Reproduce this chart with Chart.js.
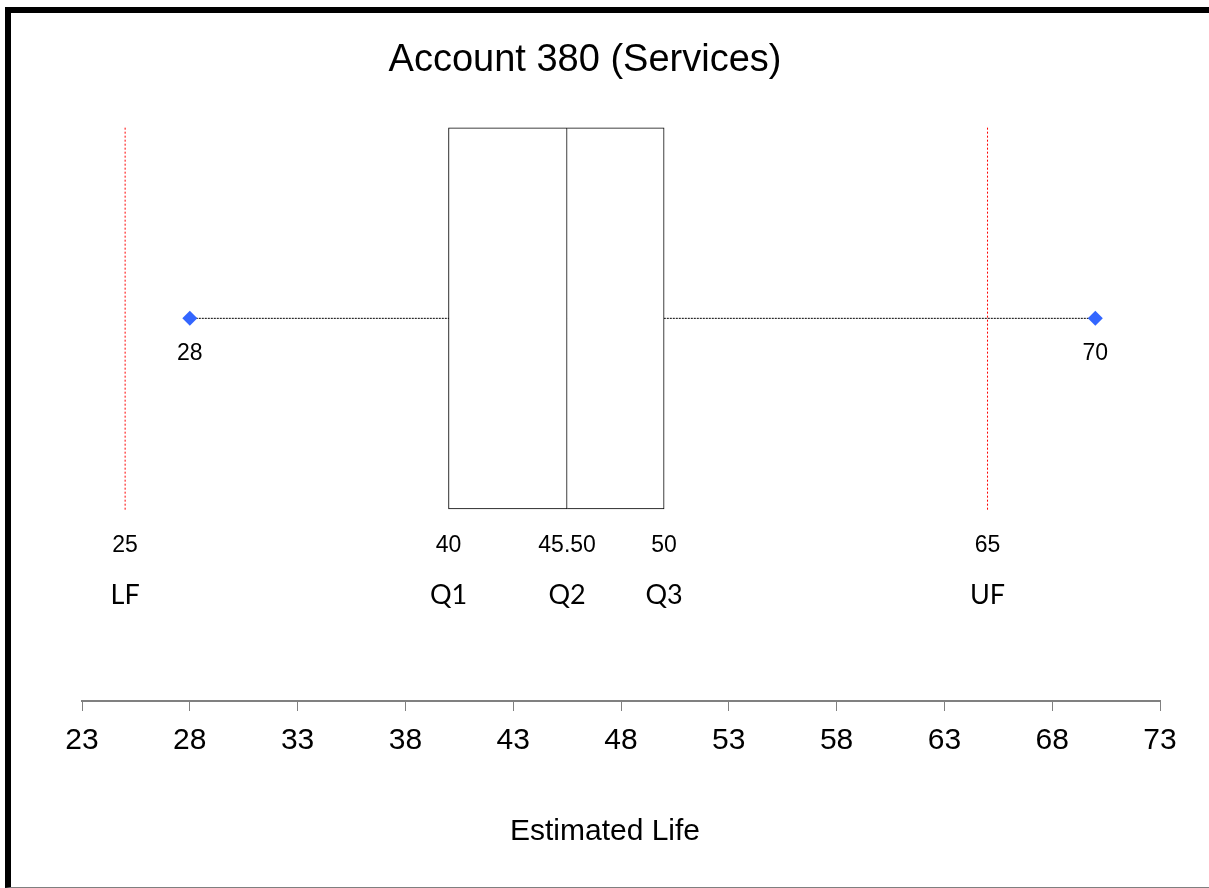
<!DOCTYPE html>
<html>
<head>
<meta charset="utf-8">
<script src="https://cdn.jsdelivr.net/npm/chart.js@4/dist/chart.umd.min.js"></script>
<style>
  html, body { margin: 0; padding: 0; background: #fff; overflow: hidden; }
  #frame { position: absolute; left: 5px; top: 7px; width: 1204px; height: 881px; box-sizing: border-box;
           border-left: 6px solid #000; border-top: 6px solid #000; border-bottom: 1px solid #7f7f7f; }
  #wrap { position: absolute; left: 0; top: 0; width: 1209px; height: 888px; }
</style>
</head>
<body>
<div id="frame"></div>
<div id="wrap"><canvas id="c"></canvas></div>
<script>
// ---- data ----
const chartTitle = 'Account 380 (Services)';
const axisTitle = 'Estimated Life';
const tickValues = [23, 28, 33, 38, 43, 48, 53, 58, 63, 68, 73];
const extremes = [28, 70];          // observed minimum / maximum
const quartiles = [40, 45.5, 50];   // Q1, Q2 (median), Q3
const fences = [25, 65];            // lower fence / upper fence
const markerNames = ['LF', 'Q1', 'Q2', 'Q3', 'UF'];
const markerValues = [fences[0], quartiles[0], quartiles[1], quartiles[2], fences[1]];

// ---- layout (hidden vertical scale 0..3, box row centred at 2) ----
const ROW = 2;
const HALF = 1;
const LABEL_Y = { extreme: 1.78, value: 0.78, name: 0.505 };

const fmt = v => Number.isInteger(v) ? String(v) : v.toFixed(2);
const ARIAL = '"Liberation Sans", Arial, sans-serif';

const textPlugin = {
  id: 'texts',
  afterDraw(chart) {
    const { ctx, scales: { x, y } } = chart;
    ctx.save();
    ctx.fillStyle = '#000';
    ctx.textAlign = 'center';
    ctx.textBaseline = 'alphabetic';
    ctx.font = '23px ' + ARIAL;
    extremes.forEach(v => ctx.fillText(fmt(v), x.getPixelForValue(v), y.getPixelForValue(LABEL_Y.extreme)));
    markerValues.forEach(v => ctx.fillText(fmt(v), x.getPixelForValue(v), y.getPixelForValue(LABEL_Y.value)));
    ctx.font = '27px Lato, "Open Sans", sans-serif';
    markerNames.forEach((n, i) => ctx.fillText(n, x.getPixelForValue(markerValues[i]), y.getPixelForValue(LABEL_Y.name)));
    ctx.font = '38px ' + ARIAL;
    ctx.fillText(chartTitle, 585, 71);
    ctx.font = '30px ' + ARIAL;
    ctx.fillText(axisTitle, 605, 840);
    ctx.restore();
  }
};

const fenceLine = (v) => ({
  type: 'line',
  data: [{ x: v, y: ROW - HALF }, { x: v, y: ROW + HALF }],
  borderColor: 'rgb(255, 0, 0)', borderWidth: 1, borderDash: [2, 2],
  pointRadius: 0, clip: false, order: 2
});

new Chart(document.getElementById('c'), {
  type: 'scatter',
  data: {
    datasets: [
      { type: 'bar', indexAxis: 'y', grouped: false, data: [{ x: [quartiles[0], quartiles[1]], y: ROW }],
        barThickness: 381, backgroundColor: '#fff', borderColor: '#000', borderWidth: 1, borderSkipped: false,
        clip: false, order: 1 },
      { type: 'bar', indexAxis: 'y', grouped: false, data: [{ x: [quartiles[1], quartiles[2]], y: ROW }],
        barThickness: 381, backgroundColor: '#fff', borderColor: '#000', borderWidth: 1, borderSkipped: 'left',
        clip: false, order: 1 },
      { type: 'line', data: extremes.map(v => ({ x: v, y: ROW })),
        borderColor: '#000', borderWidth: 1, borderDash: [2, 1], pointRadius: 0, clip: false, order: 3 },
      fenceLine(fences[0]),
      fenceLine(fences[1]),
      { type: 'scatter', data: extremes.map(v => ({ x: v, y: ROW })),
        pointStyle: 'rectRot', pointRadius: 7.5, backgroundColor: '#3366ff', borderColor: '#3366ff',
        borderWidth: 0, clip: false, order: 0 }
    ]
  },
  options: {
    responsive: true,
    maintainAspectRatio: false,
    animation: false,
    events: [],
    layout: { padding: { left: 82, right: 49, top: 127, bottom: 117 } },
    plugins: { legend: { display: false }, title: { display: false }, tooltip: { enabled: false } },
    scales: {
      x: {
        type: 'linear', min: 23, max: 73, offset: false,
        afterBuildTicks: s => { s.ticks = tickValues.map(v => ({ value: v })); },
        grid: { drawOnChartArea: false, drawTicks: true, tickLength: 10, color: '#808080', lineWidth: 1, offset: false },
        border: { display: true, color: '#808080', width: 2 },
        ticks: { color: '#000', font: { family: ARIAL, size: 30 }, padding: 12, maxRotation: 0, autoSkip: false,
                 callback: v => String(v) }
      },
      y: { type: 'linear', min: 0, max: 3, display: false, offset: false, grid: { offset: false } }
    }
  },
  plugins: [textPlugin]
});
</script>
</body>
</html>
